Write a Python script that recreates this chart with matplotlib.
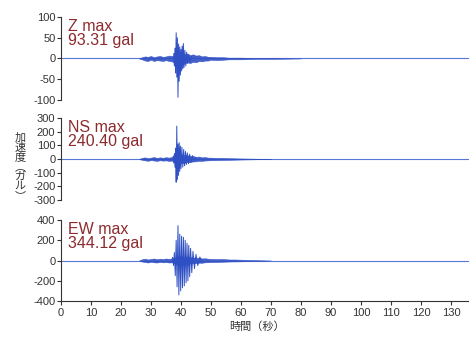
import matplotlib.pyplot as plt

plt.rcParams['font.family'] = ['Liberation Sans', 'Noto Sans CJK JP', 'DejaVu Sans']
plt.rcParams['axes.unicode_minus'] = False

# --- data ------------------------------------------------------------------
# x: time in seconds, y: acceleration in gal
components = ['Z', 'NS', 'EW']
max_labels = ['Z max\n93.31 gal', 'NS max\n240.40 gal', 'EW max\n344.12 gal']
y_limits = [100, 300, 400]
y_ticks = [[100, 50, 0, -50, -100],
           [300, 200, 100, 0, -100, -200, -300],
           [400, 200, 0, -200, -400]]
x_ticks = list(range(0, 140, 10))

# noise envelope (background shaking)
z_env_t = [26, 27, 28, 29, 30, 31, 32, 33, 34, 35, 36, 37, 38, 39, 40, 41, 42, 43, 44,
           45, 46, 47, 48, 49, 50, 52, 54, 56, 58, 60, 65, 70, 80]
z_env_up = [0, 3, 5, 4, 6, 3, 5, 6, 4, 5, 7, 6, 10, 12, 14, 10, 12, 8, 10,
            7, 8, 5, 6, 4, 4, 3, 3, 2, 2, 2, 1, 1, 0]
z_env_lo = [0, -2, -5, -6, -3, -6, -4, -5, -6, -4, -6, -7, -12, -14, -12, -13, -9, -11, -8,
            -9, -6, -7, -5, -5, -3, -4, -3, -2, -2, -2, -1, -1, 0]

ns_env_t = [26, 27, 28, 29, 30, 31, 32, 33, 34, 35, 36, 37, 38, 39, 40, 41, 42, 43, 44,
            45, 46, 47, 48, 49, 50, 52, 54, 56, 58, 60, 65, 70]
ns_env_up = [0, 8, 12, 6, 10, 14, 8, 12, 9, 13, 10, 15, 20, 30, 35, 25, 30, 20, 22,
             15, 18, 12, 14, 10, 10, 8, 8, 6, 5, 4, 2, 0]
ns_env_lo = [0, -6, -10, -13, -8, -11, -14, -9, -12, -10, -14, -12, -22, -35, -30, -28, -24, -22, -18,
             -17, -13, -14, -11, -10, -9, -8, -7, -6, -5, -4, -2, 0]

ew_env_t = [26, 27, 28, 29, 30, 31, 32, 33, 34, 35, 36, 37, 38, 39, 40, 41, 42, 43, 44,
            45, 46, 47, 48, 49, 50, 52, 54, 56, 58, 60, 65, 70]
ew_env_up = [0, 12, 18, 10, 15, 20, 12, 18, 14, 20, 15, 22, 30, 40, 45, 35, 40, 30, 32,
             25, 28, 20, 22, 18, 16, 14, 15, 10, 10, 8, 4, 0]
ew_env_lo = [0, -10, -15, -20, -12, -18, -20, -14, -18, -15, -20, -18, -30, -45, -40, -38, -35, -30, -28,
             -25, -22, -22, -18, -17, -15, -14, -12, -10, -9, -8, -4, 0]

# strong-motion peaks (alternating extrema)
z_pk_t = [37.6, 37.8, 38.0, 38.2, 38.4, 38.6, 38.8, 39.0, 39.2, 39.4, 39.6, 39.8, 40.0,
          40.2, 40.4, 40.6, 40.8, 41.0, 41.3, 41.6, 41.9, 42.2, 42.6, 43.0, 43.5]
z_pk_v = [12, -18, 25, -35, 62, -45, 50, -93.31, 35, -55, 28, -40, 22,
          -30, 30, -25, 36, -22, 20, -18, 15, -12, 10, -8, 5]

ns_pk_t = [37.4, 37.6, 37.8, 38.0, 38.2, 38.4, 38.6, 38.8, 39.0, 39.2, 39.4, 39.6, 39.8,
           40.0, 40.3, 40.6, 40.9, 41.2, 41.5, 41.8, 42.1, 42.5, 42.9, 43.3, 43.8, 44.3, 45.0]
ns_pk_v = [20, -30, 40, -60, 80, -170, 240.40, -150, 110, -120, 120, -90, 95,
           -70, 85, -60, 70, -50, 55, -40, 45, -35, 35, -25, 25, -15, 10]

ew_pk_t = [37.2, 37.5, 37.8, 38.1, 38.4, 38.7, 39.0, 39.3, 39.6, 39.9, 40.2, 40.5, 40.8, 41.1,
           41.4, 41.7, 42.0, 42.3, 42.6, 42.9, 43.2, 43.6, 44.0, 44.5, 45.0, 45.6, 46.3, 47.0]
ew_pk_v = [30, -50, 80, -150, 200, -260, 344.12, -340, 260, -300, 240, -270, 230, -250,
           200, -220, 170, -200, 150, -160, 120, -120, 90, -80, 60, -50, 35, -20]

envelopes = [(z_env_t, z_env_up, z_env_lo), (ns_env_t, ns_env_up, ns_env_lo),
             (ew_env_t, ew_env_up, ew_env_lo)]
peaks = [(z_pk_t, z_pk_v), (ns_pk_t, ns_pk_v), (ew_pk_t, ew_pk_v)]

# --- figure ------------------------------------------------------------------
fig = plt.figure(figsize=(4.69, 3.37), dpi=100)
# [left, bottom, width, height] for each panel
boxes = [[0.130, 0.7033, 0.87, 0.2463],
         [0.130, 0.4065, 0.87, 0.2434],
         [0.130, 0.1068, 0.87, 0.2404]]

trace_col = '#2f4fc4'
text_col = '#8c2a2e'
tick_col = '#333333'

for i in range(3):
    ax = fig.add_axes(boxes[i])
    lim = y_limits[i]
    env_t, env_up, env_lo = envelopes[i]
    pk_t, pk_v = peaks[i]

    ax.axhline(0, color='#5577d6', lw=0.8, zorder=1)
    ax.fill_between(env_t, env_lo, env_up, color=trace_col, lw=0.4, alpha=0.9, zorder=2)
    ax.plot(pk_t, pk_v, color=trace_col, lw=0.7, zorder=3)

    ax.set_xlim(0, 136)
    ax.set_ylim(-lim, lim)
    ax.set_yticks(y_ticks[i])
    ax.tick_params(axis='y', direction='out', length=3, width=0.8, pad=1,
                   labelsize=8, colors=tick_col)
    for s in ['top', 'right']:
        ax.spines[s].set_visible(False)
    ax.spines['left'].set_color(tick_col)
    ax.spines['left'].set_linewidth(0.8)

    if i < 2:
        ax.spines['bottom'].set_visible(False)
        ax.set_xticks([])
    else:
        ax.spines['bottom'].set_color(tick_col)
        ax.spines['bottom'].set_linewidth(0.8)
        ax.set_xticks(x_ticks)
        ax.tick_params(axis='x', direction='out', length=3, width=0.8, pad=2,
                       labelsize=8, colors=tick_col)

    ax.text(0.018, 0.975, max_labels[i], transform=ax.transAxes, ha='left', va='top',
            fontsize=11.5, color=text_col, linespacing=0.9)

fig.text(0.043, 0.505, '加\n速\n度\n︵\nガ\nル\n︶', ha='center', va='center',
         fontsize=8, color=tick_col, linespacing=0.95,
         family=['Noto Sans CJK JP', 'DejaVu Sans'])
fig.text(0.548, 0.03, '時間（秒）', ha='center', va='center', fontsize=8, color=tick_col,
         family=['Noto Sans CJK JP', 'DejaVu Sans'])

fig.savefig('out.png', dpi=100)
